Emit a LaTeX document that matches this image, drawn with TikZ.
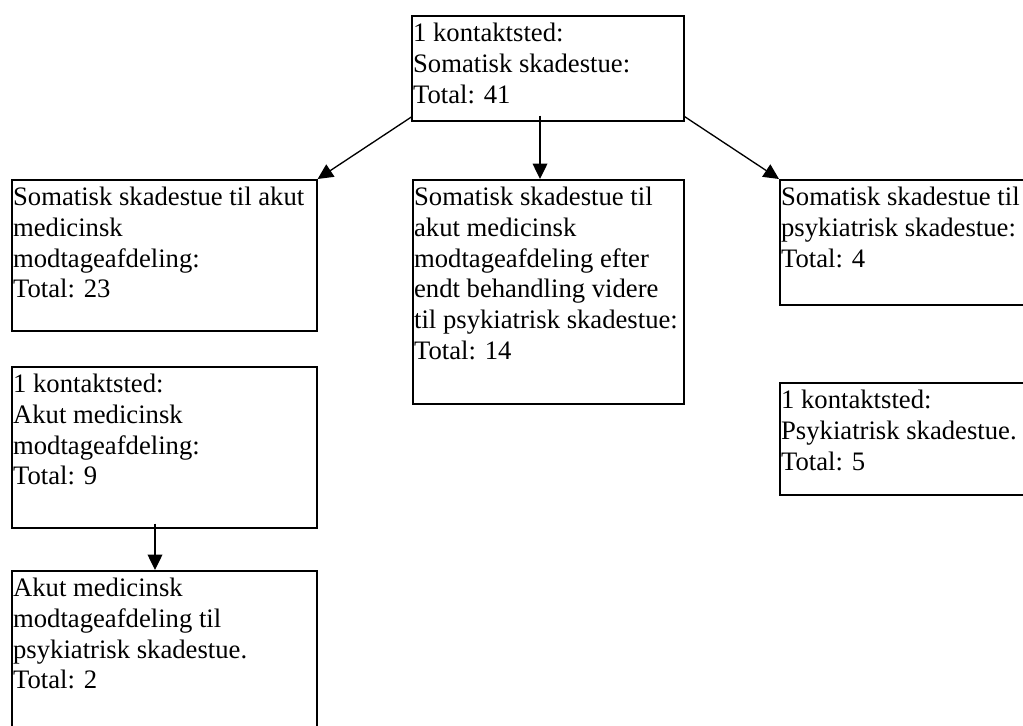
\documentclass[tikz,border=0pt]{standalone}
\usepackage{fontspec}
\setmainfont{Liberation Serif}
\usetikzlibrary{arrows.meta,calc}
\newcommand\boxtxt[3]{\parbox[t][#2][t]{#1}{\raggedright\leftskip=1pt\rule{0pt}{19.5pt}#3}}
\begin{document}
\begin{tikzpicture}[x=0.75pt,y=-0.75pt,
  box/.style={draw, line width=1.2pt, inner sep=0pt, anchor=north west, font=\fontsize{20}{23}\selectfont},
  conn/.style={line width=1pt, -{Triangle[length=11.5pt,width=11pt]}}]
\clip (0,0) rectangle (1023,725);
\node[box] (top) at (411,15) {\boxtxt{204pt}{78.75pt}{1 kontaktsted:\\Somatisk skadestue:\\Total: 41}};
\node[box] (L1) at (11,179) {\boxtxt{228.75pt}{113.25pt}{Somatisk skadestue til akut\\medicinsk\\modtageafdeling:\\Total: 23}};
\node[box] (M) at (412,179) {\boxtxt{203.25pt}{168pt}{Somatisk skadestue til\\akut medicinsk\\modtageafdeling efter\\endt behandling videre\\til psykiatrisk skadestue:\\Total: 14}};
\node[box] (R1) at (779,179) {\boxtxt{195pt}{93.75pt}{Somatisk skadestue til\\psykiatrisk skadestue:\\Total: 4}};
\node[box] (L2) at (11,366) {\boxtxt{228.75pt}{120.75pt}{1 kontaktsted:\\Akut medicinsk\\modtageafdeling:\\Total: 9}};
\node[box] (R2) at (779,382) {\boxtxt{195pt}{84pt}{1 kontaktsted:\\Psykiatrisk skadestue.\\Total: 5}};
\node[box] (L3) at (11,570) {\boxtxt{228.75pt}{135pt}{Akut medicinsk\\modtageafdeling til\\psykiatrisk skadestue.\\Total: 2}};
\coordinate (tl) at ($(top.south west)+(1,-5)$);
\coordinate (tm) at ($(top.south west)+(129,-6)$);
\coordinate (tr) at ($(top.south east)+(0,-5)$);
\coordinate (lm) at ($(L2.south west)+(144,-5)$);
\draw[conn] (tl) -- (L1.north east);
\draw[conn] (tm) -- (tm |- M.north);
\draw[conn] (tr) -- (R1.north west);
\draw[conn] (lm) -- (lm |- L3.north);
\end{tikzpicture}
\end{document}
